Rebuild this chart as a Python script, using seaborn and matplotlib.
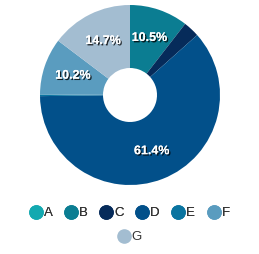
import matplotlib
matplotlib.use("Agg")
import matplotlib.pyplot as plt
import matplotlib.patheffects as pe
from matplotlib.lines import Line2D
import numpy as np
import seaborn as sns

categories = ["A", "B", "C", "D", "E", "F", "G"]
values = [0.0, 10.5, 2.9, 61.4, 0.3, 10.2, 14.7]
colors = ["#13a9b0", "#0b7d92", "#062b5a", "#02508a", "#0a74a0", "#5a9cbf", "#a3bdd1"]

sns.set_theme(style="white")
plt.rcParams["font.family"] = ["Liberation Sans", "DejaVu Sans"]

fig = plt.figure(figsize=(2.59, 2.54), dpi=100)
W, H = 259, 254
cx, cy, r = 130, 95, 90
ax = fig.add_axes([(cx - r) / W, (H - cy - r) / H, 2 * r / W, 2 * r / H])

wedges, _ = ax.pie(values, colors=colors, startangle=90, counterclock=False,
                   radius=1, wedgeprops=dict(width=0.7, linewidth=0))
ax.set_xlim(-1, 1)
ax.set_ylim(-1, 1)
ax.axis("off")

total = sum(values)
cum = 0
for v in values:
    if v / total >= 0.05:
        mid = 90 - 360 * (cum + v / 2) / total
        rr = 0.67
        x, y = rr * np.cos(np.radians(mid)), rr * np.sin(np.radians(mid))
        ax.text(x, y, f"{v:.1f}%", ha="center", va="center", color="white",
                fontsize=9, fontweight="bold",
                path_effects=[pe.withSimplePatchShadow(offset=(1, -1), shadow_rgbFace="black", alpha=0.8),
                              pe.Normal()])
    cum += v

def handle(c):
    return Line2D([], [], marker="o", linestyle="", markersize=9.5, markerfacecolor=c, markeredgecolor=c)

h1 = [handle(c) for c in colors[:6]]
leg1 = fig.legend(h1, categories[:6], loc="center", bbox_to_anchor=(0.5, 1 - 213 / H), ncol=6,
                  frameon=False, fontsize=9.5, handletextpad=0.1, columnspacing=0.9,
                  handlelength=1.0, labelcolor="#333333")
fig.add_artist(leg1)
leg2 = fig.legend([handle(colors[6])], categories[6:], loc="center", bbox_to_anchor=(0.5, 1 - 237 / H),
                  ncol=1, frameon=False, fontsize=9.5, handletextpad=0.1, handlelength=1.0,
                  labelcolor="#333333")

fig.savefig("out.png", dpi=100)
